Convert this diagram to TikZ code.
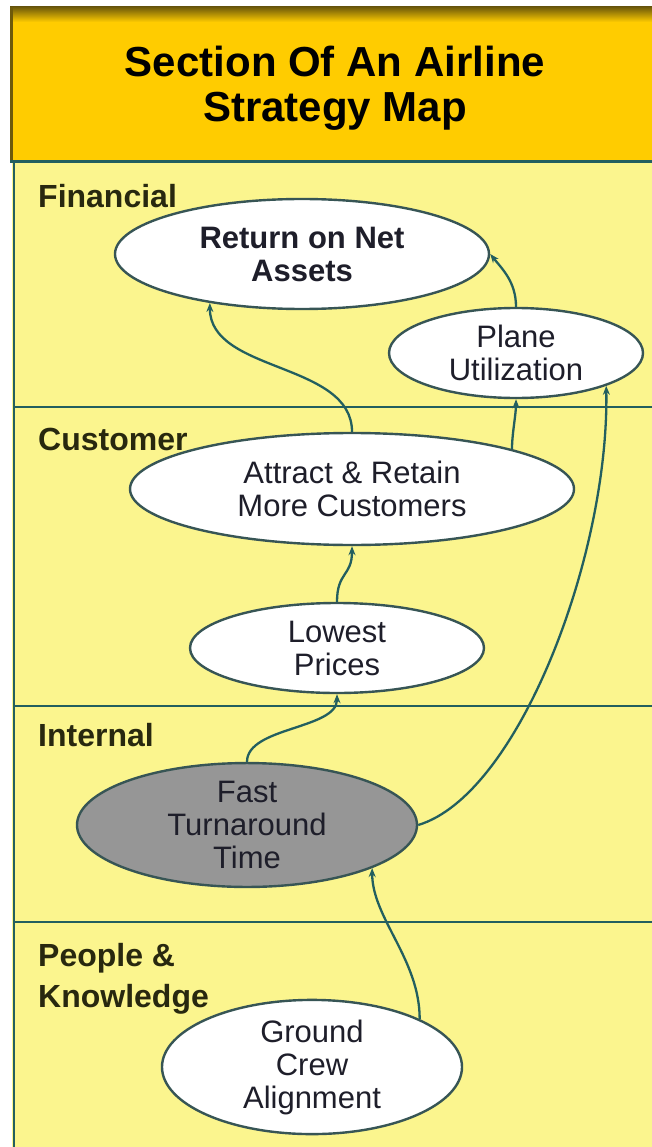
\documentclass[tikz,border=0pt]{standalone}
\usepackage{fontspec}
\setmainfont{Liberation Sans}
\usetikzlibrary{shapes.geometric,arrows.meta}
\definecolor{hdrorange}{RGB}{255,204,0}
\definecolor{hdrdark}{RGB}{110,90,10}
\definecolor{bodyyellow}{RGB}{251,245,142}
\definecolor{lineteal}{RGB}{35,95,95}
\definecolor{ellborder}{RGB}{55,85,85}
\definecolor{fastgray}{RGB}{150,150,150}
\definecolor{labeltext}{RGB}{40,40,15}
\definecolor{elltext}{RGB}{30,30,42}
\begin{document}
\begin{tikzpicture}[x=1pt,y=-1pt,
  sep/.style={draw=lineteal,line width=2.2pt},
  lane/.style={font=\fontsize{32}{40}\selectfont\bfseries,text=labeltext,anchor=base west,inner sep=0pt,align=left},
  goal/.style={ellipse,draw=ellborder,line width=2.4pt,fill=white,inner sep=0pt,align=center,
     text=elltext,font=\fontsize{31}{33}\selectfont},
  link/.style={draw=lineteal,line width=2.3pt,-{Stealth[length=9pt,width=7pt]}}]
\useasboundingbox (0,0) rectangle (652,1147);
% header
\fill[hdrorange] (10,7) rectangle (652,162);
\shade[top color=hdrdark,bottom color=hdrorange] (10,7) rectangle (652,22);
\draw[hdrdark,line width=3pt] (11.5,7) -- (11.5,162);
% body
\fill[bodyyellow] (12,162) rectangle (652,1147);
\draw[sep,line width=3pt] (10,162) -- (652,162);
\draw[sep] (14,162) -- (14,1147);
\draw[sep] (14,407) -- (652,407);
\draw[sep] (14,706) -- (652,706);
\draw[sep] (14,922) -- (652,922);
% title
\node[font=\fontsize{42}{45}\selectfont\bfseries,align=center,text=black] (title) at (335,88)
  {Section Of An Airline\\Strategy Map};
% lane labels
\node[lane] (lfin) at (38,208) {Financial};
\node[lane] (lcus) at (38,450) {Customer};
\node[lane] (lint) at (38,746) {Internal};
\node[lane] (lpeo) at (38,966) {People \&};
\node[lane] (lkno) at (38,1007) {Knowledge};
% goals
\node[goal,minimum width=374pt,minimum height=110pt,font=\fontsize{31}{33}\selectfont\bfseries] (ret) at (302,254) {Return on Net\\Assets};
\node[goal,minimum width=254pt,minimum height=90pt] (pu) at (516,353) {Plane\\Utilization};
\node[goal,minimum width=444pt,minimum height=112pt] (att) at (352,489) {Attract \& Retain\\More Customers};
\node[goal,minimum width=294pt,minimum height=90pt] (lp) at (337,648) {Lowest\\Prices};
\node[goal,minimum width=340pt,minimum height=118pt,fill=fastgray] (fast) at (247,825) {Fast\\Turnaround\\Time};
\node[goal,minimum width=300pt,minimum height=134pt] (gc) at (312,1067) {Ground\\Crew\\Alignment};
% links
\draw[link] (att.north) .. controls +(0,-70) and +(0,70) .. (ret.208);
\draw[link] (att.14) .. controls +(0,-15) and +(0,15) .. (pu.south);
\draw[link] (pu.north) .. controls +(0,-25) and +(12,15) .. (ret.east);
\draw[link] (lp.north) .. controls +(0,-30) and +(0,30) .. (att.south);
\draw[link] (fast.north) .. controls +(0,-35) and +(0,35) .. (lp.south);
\draw[link] (fast.east) .. controls +(100,-30) and +(3,170) .. (pu.-20);
\draw[link] (gc.24) .. controls +(0,-60) and +(0,50) .. (fast.-19);
\end{tikzpicture}
\end{document}
